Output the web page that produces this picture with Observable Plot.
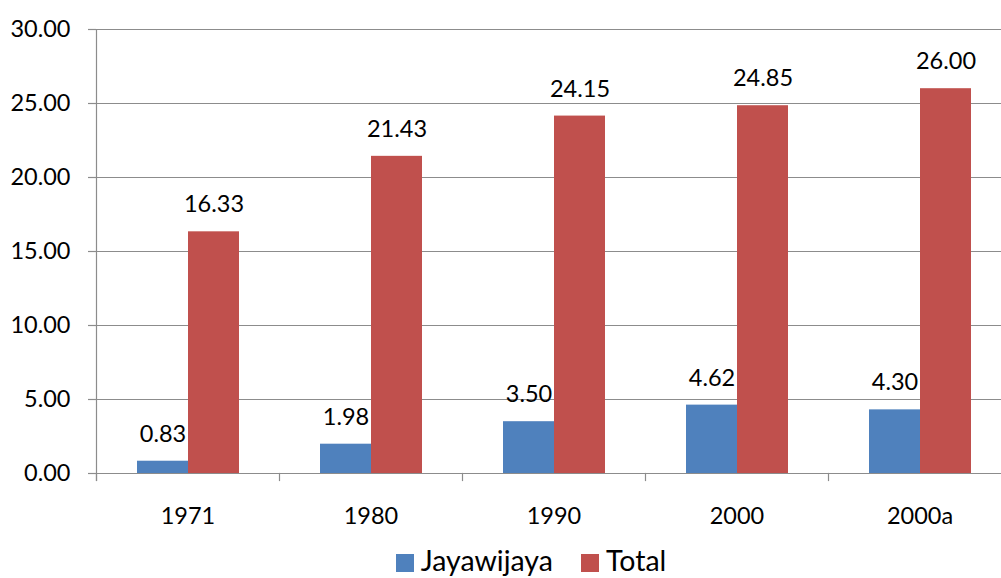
<!DOCTYPE html>
<html>
<head>
<meta charset="utf-8">
<script src="https://cdn.jsdelivr.net/npm/d3@7"></script>
<script src="https://cdn.jsdelivr.net/npm/@observablehq/plot@0.6"></script>
<style>
  html, body { margin: 0; padding: 0; background: #fff; }
  body { width: 1001px; height: 578px; position: relative; overflow: hidden; font-family: Lato, "Open Sans", sans-serif; }
  #legend { position: absolute; top: 545px; left: 0; width: 1062px; display: flex; justify-content: center; align-items: center; font-size: 28.5px; line-height: 30px; color: #000; }
  #legend .item { display: flex; align-items: center; margin: 0 14px; }
  #legend .sw { width: 18px; height: 18px; margin-right: 7px; margin-top: 5px; }
</style>
</head>
<body>
<div id="chart"></div>
<div id="legend"></div>
<script>
const years = ["1971", "1980", "1990", "2000", "2000a"];
const seriesNames = ["Jayawijaya", "Total"];
const jayawijaya = [0.83, 1.98, 3.50, 4.62, 4.30];
const total = [16.33, 21.43, 24.15, 24.85, 26.00];
const colors = ["#4F81BD", "#C0504D"];
const yTicks = [0, 5, 10, 15, 20, 25, 30];

const data = [];
years.forEach((yr, i) => {
  data.push({year: yr, series: seriesNames[0], value: jayawijaya[i]});
  data.push({year: yr, series: seriesNames[1], value: total[i]});
});

const grey = "#8c8c8c";
const fmt = d3.format(".2f");
const fs = 23.5;

const chart = Plot.plot({
  width: 1001,
  height: 540,
  marginLeft: 96,
  marginRight: -10,
  marginTop: 29,
  marginBottom: 67,
  style: {fontFamily: "Lato, 'Open Sans', sans-serif", fontSize: fs + "px", color: "#000", background: "#fff", overflow: "visible"},
  fx: {domain: years, padding: 0, label: null},
  x: {domain: seriesNames, paddingInner: 0, paddingOuter: 0.76, axis: null},
  y: {domain: [0, 30], label: null, axis: null},
  color: {domain: seriesNames, range: colors},
  marks: [
    Plot.gridY(yTicks, {stroke: grey, strokeOpacity: 1, strokeWidth: 1.2}),
    Plot.frame({anchor: "left", facetAnchor: "left", stroke: grey, strokeWidth: 1.2, insetBottom: -7}),
    Plot.frame({anchor: "left", stroke: grey, strokeWidth: 1.2, insetTop: 444, insetBottom: -7}),
    Plot.axisY({ticks: yTicks, tickFormat: fmt, tickSize: 8, tickPadding: 18, stroke: grey, strokeWidth: 1.2, fontSize: fs, label: null}),
    Plot.axisFx({anchor: "bottom", tickSize: 0, tickPadding: 34, fontSize: fs, label: null}),
    Plot.barY(data, {fx: "year", x: "series", y: "value", fill: "series"}),
    Plot.text(data, {fx: "year", x: "series", y: "value", text: d => fmt(d.value), dy: -27, fontSize: fs, fill: "#000"})
  ]
});
document.getElementById("chart").appendChild(chart);

const legend = document.getElementById("legend");
seriesNames.forEach((name, i) => {
  const item = document.createElement("div");
  item.className = "item";
  const sw = document.createElement("div");
  sw.className = "sw";
  sw.style.background = colors[i];
  const label = document.createElement("span");
  label.textContent = name;
  item.appendChild(sw);
  item.appendChild(label);
  legend.appendChild(item);
});
</script>
</body>
</html>
